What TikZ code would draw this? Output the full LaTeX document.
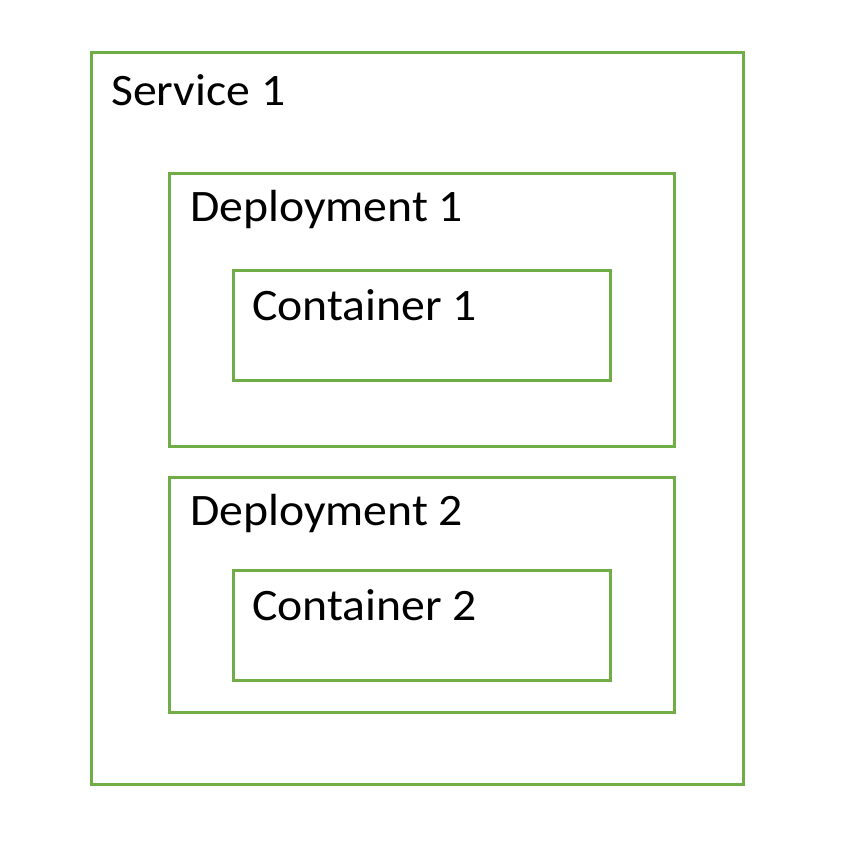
\documentclass[tikz,border=0pt]{standalone}
\usepackage{fontspec}
\setmainfont{Carlito}
\newfontfamily\lblfont[FakeStretch=1.06]{Carlito}
\definecolor{boxgreen}{HTML}{70AD47}
\begin{document}
\begin{tikzpicture}[x=1bp,y=-1bp,
  frame/.style={draw=boxgreen,line width=3bp},
  lbl/.style={anchor=base west,inner sep=0pt,font=\lblfont\fontsize{45bp}{52bp}\selectfont}]
\useasboundingbox (0,0) rectangle (843,867);
\draw[frame] (91,52) rectangle (743,784);
\draw[frame] (169,173) rectangle (674,446);
\draw[frame] (233,270) rectangle (610,380);
\draw[frame] (169,477) rectangle (674,712);
\draw[frame] (233,570) rectangle (610,680);
\node[lbl] (s1) at (111,105) {Service 1};
\node[lbl] (d1) at (190,221) {Deployment 1};
\node[lbl] (c1) at (252,320) {Container 1};
\node[lbl] (d2) at (190,525) {Deployment 2};
\node[lbl] (c2) at (252,620) {Container 2};
\end{tikzpicture}
\end{document}
